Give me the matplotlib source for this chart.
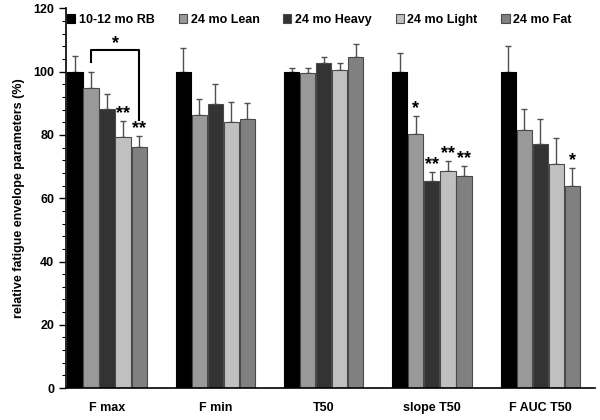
import numpy as np
import matplotlib.pyplot as plt
from matplotlib.ticker import MultipleLocator

plt.rcParams['font.family'] = ['Liberation Sans', 'DejaVu Sans']
plt.rcParams['font.weight'] = 'bold'

groups = ['F max', 'F min', 'T50', 'slope T50', 'F AUC T50']
series_names = ['10-12 mo RB', '24 mo Lean', '24 mo Heavy', '24 mo Light', '24 mo Fat']
colors = ['#000000', '#999999', '#333333', '#c0c0c0', '#808080']

rb = [100, 100, 100, 100, 100]
lean = [94.7, 86.4, 99.7, 80.3, 81.6]
heavy = [88.1, 89.8, 102.8, 65.3, 77.2]
light = [79.3, 84.1, 100.6, 68.5, 70.8]
fat = [76.1, 85.1, 104.7, 66.9, 63.9]

rb_err = [4.8, 7.5, 1.2, 5.9, 8.2]
lean_err = [5.1, 5.0, 1.5, 5.6, 6.6]
heavy_err = [4.7, 6.4, 1.9, 3.0, 7.8]
light_err = [5.0, 6.2, 2.2, 3.4, 8.1]
fat_err = [3.5, 5.0, 4.1, 3.4, 5.6]

# (group index, series index, label)
sig_marks = [(0, 3, '**'), (0, 4, '**'), (3, 1, '*'), (3, 2, '**'),
             (3, 3, '**'), (3, 4, '**'), (4, 4, '*')]

means = np.array([rb, lean, heavy, light, fat])
errs = np.array([rb_err, lean_err, heavy_err, light_err, fat_err])

fig = plt.figure(figsize=(6, 4.2), dpi=100)
ax = fig.add_axes([0.11, 0.076, 0.882, 0.904])

x = np.arange(len(groups))
pitch = 0.148
for i, (name, col) in enumerate(zip(series_names, colors)):
    xi = x + (i - 2) * pitch
    ax.bar(xi, means[i], width=0.14, color=col, label=name,
           edgecolor='#4a4a4a' if i else '#000000', linewidth=0.8, zorder=2)
    ax.errorbar(xi, means[i], yerr=[np.zeros(len(groups)), errs[i]], fmt='none',
                ecolor='#505050', elinewidth=1, capsize=2.2, capthick=1, zorder=1)

for g, s, lab in sig_marks:
    xs = x[g] + (s - 2) * pitch
    ys = means[s, g] + errs[s, g] + 2.3
    ax.text(xs, ys, lab, ha='center', va='center', fontsize=13, fontweight='bold')

# bracket between lean and fat in F max
xl = x[0] - pitch
xr = x[0] + 2 * pitch
ax.plot([xl, xl, xr, xr], [103, 106.7, 106.7, 84.7], color='black', lw=1.5, zorder=3)
ax.text((xl + xr) / 2, 109.0, '*', ha='center', va='center', fontsize=13, fontweight='bold')

ax.set_xlim(-0.379, 4.508)
ax.set_ylim(0, 120)
ax.yaxis.set_major_locator(MultipleLocator(20))
ax.yaxis.set_minor_locator(MultipleLocator(4))
ax.set_xticks(x)
ax.set_xticklabels(groups, fontsize=9, fontweight='bold')
ax.tick_params(axis='x', length=0, pad=10)
ax.tick_params(axis='y', which='major', length=5, width=1, labelsize=9)
ax.tick_params(axis='y', which='minor', length=3, width=0.8)
ax.spines['top'].set_visible(False)
ax.spines['right'].set_visible(False)
ax.spines['left'].set_linewidth(1.2)
ax.spines['bottom'].set_linewidth(1.2)
ax.set_ylabel('relative fatigue envelope parameters (%)', fontsize=9, fontweight='bold', labelpad=6)

ax.legend(ncol=5, loc='upper left', bbox_to_anchor=(-0.012, 1.005), frameon=False,
          fontsize=9, handlelength=0.65, handleheight=0.65, handletextpad=0.3,
          columnspacing=1.9, borderaxespad=0.2)

fig.savefig('out.png', dpi=100)
